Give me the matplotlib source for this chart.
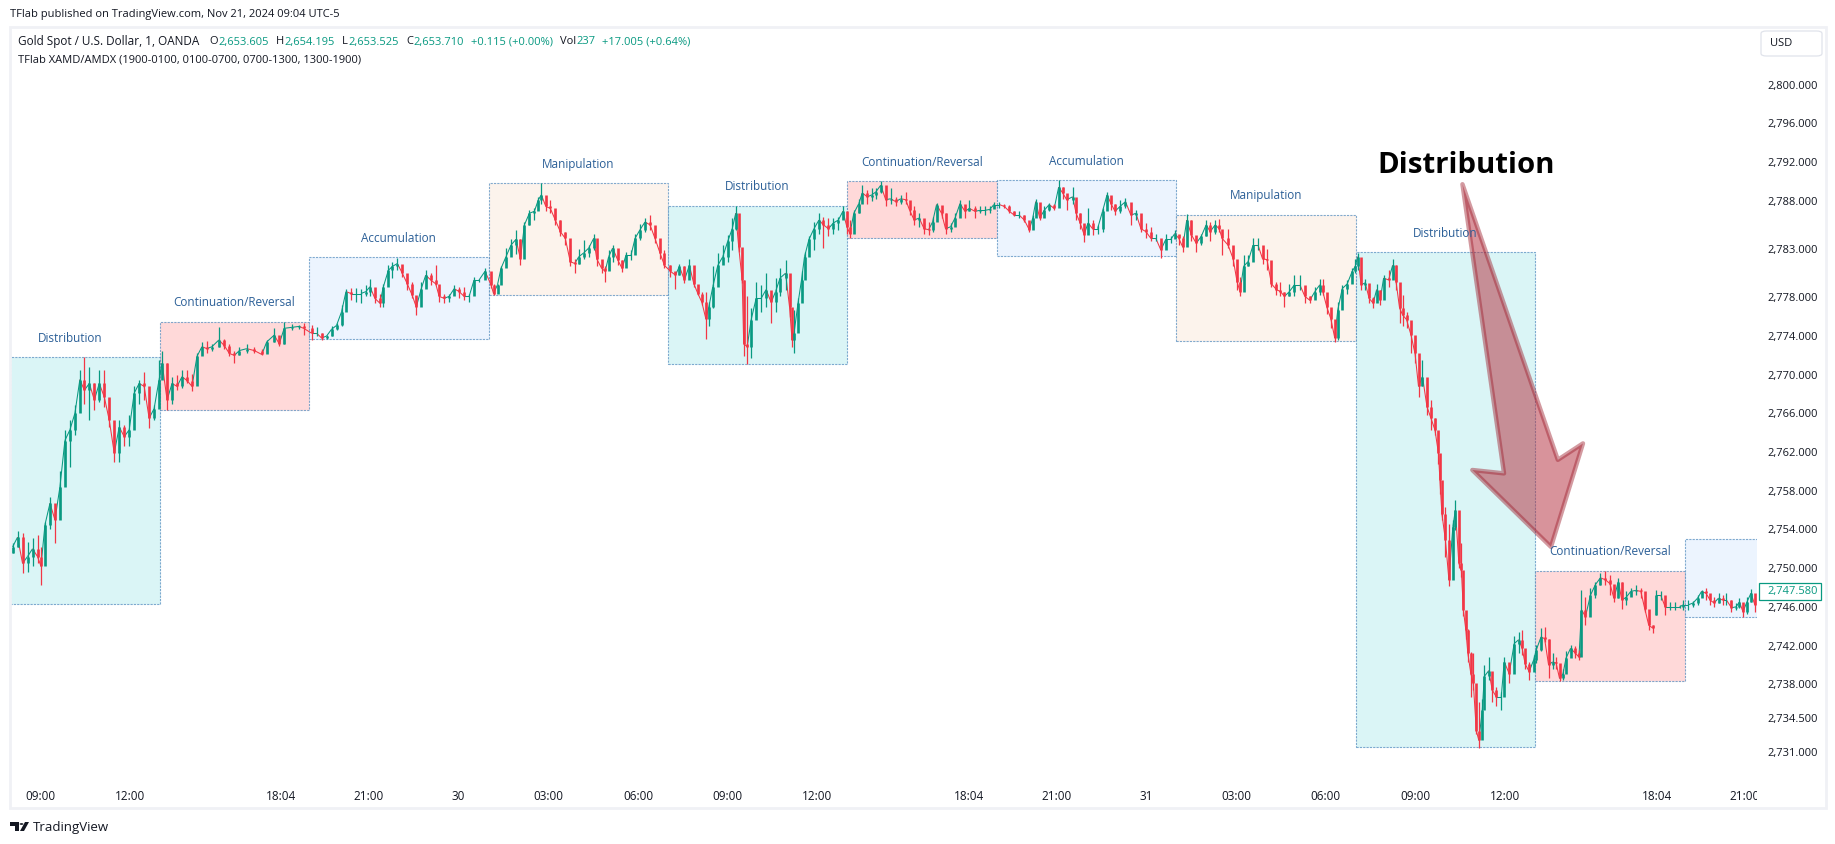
import matplotlib
matplotlib.use("Agg")
import matplotlib.pyplot as plt
from matplotlib.collections import LineCollection
from matplotlib.patches import Rectangle, Polygon, FancyBboxPatch, Circle
from matplotlib.transforms import Bbox, blended_transform_factory

W, H = 1835, 844
FONT = "Open Sans"
GREEN, RED = "#089981", "#F23645"
DARK = "#131722"

PRICE_BASE = 2700
# each bar: minutes since session start, high, low, close (price minus PRICE_BASE)
s1 = [(5,52.6,51.6,52.2),(15,53.8,52.2,53.2),(25,53.6,49.5,50.5),(35,52.7,49.6,51.2),(45,53.1,50.2,52.0),(55,53.4,50.5,51.2),(62,52.2,48.3,50.2),(70,54.8,51.5,54.5),(80,57.4,54.0,56.7),(90,55.7,52.6,55.0),(100,60.0,55.6,58.4),(110,64.3,60.8,63.2),(120,65.3,60.5,64.3),(130,66.9,63.8,66.0),(140,70.5,67.9,69.5),(149,71.8,67.0,68.4),(159,70.8,65.3,69.1),(169,69.1,66.4,67.4),(179,70.5,67.2,69.1),(189,70.5,66.7,67.7),(199,67.6,64.6,65.3),(209,64.8,61.0,61.9),(219,65.3,61.0,64.6),(229,64.8,62.6,63.6),(239,65.8,62.6,64.3),(249,68.8,66.5,68.1),(259,69.5,67.0,69.1),(269,70.3,67.4,68.8),(279,67.4,64.5,65.5),(289,66.9,65.3,66.5),(299,71.5,67.6,69.5)]
s2 = [(5,72.5,70.1,71.2),(15,71.2,66.4,67.4),(25,69.8,67.0,69.1),(35,70.0,68.4,68.8),(45,70.5,68.6,69.8),(55,70.5,69.1,69.4),(65,70.1,68.3,68.8),(75,72.2,69.1,71.9),(85,73.4,72.0,72.9),(95,73.5,72.2,72.7),(105,73.2,72.5,72.9),(119,74.9,72.9,73.6),(130,73.7,72.7,73.0),(140,73.2,71.9,72.2),(150,72.5,71.2,72.0),(160,72.9,72.0,72.5),(175,73.2,72.3,72.7),(190,72.9,72.2,72.5),(205,72.7,72.0,72.1),(215,73.6,72.2,73.4),(230,74.8,73.4,74.1),(240,73.6,73.0,73.2),(250,75.5,73.2,74.8),(265,75.2,74.6,74.9),(280,75.1,74.7,75.0),(289,75.3,74.1,74.8)]
s3 = [(5,75.1,73.6,74.3),(15,74.9,74.0,74.3),(25,74.3,73.6,73.8),(35,74.1,73.65,74.0),(45,75.0,74.0,74.7),(55,75.3,74.6,75.1),(65,77.2,75.0,76.5),(74,78.9,77.0,78.6),(84,79.0,77.7,78.4),(94,79.0,77.5,78.4),(104,78.9,77.4,78.4),(114,79.3,78.1,78.6),(122,79.9,78.1,79.1),(132,78.6,77.4,77.9),(142,78.4,77.0,77.4),(149,79.4,77.0,79.1),(159,81.3,80.0,80.8),(167,81.7,80.0,81.2),(177,82.1,80.8,81.5),(187,81.3,80.1,80.5),(197,80.1,78.8,79.4),(207,79.6,77.9,78.2),(215,78.1,76.2,77.0),(225,79.6,77.9,78.9),(234,80.8,79.1,80.3),(244,80.5,79.3,79.8),(254,81.3,79.3,79.4),(261,79.1,77.5,78.1),(271,78.4,77.4,77.9),(281,78.4,77.5,78.1),(291,79.3,78.2,78.9),(301,79.1,77.9,78.6),(311,79.1,77.7,78.1),(321,78.4,77.5,78.1),(331,80.1,78.6,79.8),(341,79.9,79.6,79.8),(353,81.0,80.0,80.7)]
s4 = [(5,80.3,79.0,79.3),(10,79.4,78.2,78.4),(18,79.4,78.9,79.3),(25,81.2,80.0,81.0),(35,83.1,81.3,82.2),(45,84.0,82.5,83.4),(55,85.0,82.5,84.0),(64,84.0,81.3,82.0),(72,85.8,83.6,85.5),(82,87.0,85.5,86.7),(92,87.2,86.0,86.9),(100,88.4,87.0,88.1),(106,89.8,87.7,88.6),(115,88.2,86.9,87.4),(124,88.1,86.7,87.2),(134,86.9,85.5,86.0),(144,86.0,84.3,84.8),(154,84.8,83.4,84.1),(164,83.4,81.2,81.7),(173,82.0,80.5,81.5),(181,83.0,81.5,82.2),(191,83.9,82.0,82.6),(201,83.4,82.2,83.1),(211,84.6,82.9,84.1),(217,82.9,81.2,82.0),(227,81.3,80.5,81.0),(234,81.2,79.6,80.7),(241,82.9,80.8,82.2),(249,83.4,81.7,83.1),(259,82.6,81.3,81.9),(268,81.9,80.6,81.0),(276,82.7,81.7,82.4),(286,82.9,81.9,82.4),(294,84.6,82.9,84.1),(304,85.6,83.9,85.0),(314,86.2,84.8,85.8),(324,86.5,85.0,85.5),(334,84.8,83.6,84.1),(344,83.2,82.0,82.6),(353,82.9,81.0,81.3)]
s5 = [(5,81.3,80.1,80.7),(15,80.6,78.9,80.3),(23,81.5,80.3,81.2),(33,81.2,79.5,79.8),(43,82.0,80.5,81.3),(52,80.8,79.1,79.4),(60,79.3,78.2,78.4),(68,78.6,77.2,77.5),(76,78.6,73.7,75.8),(82,77.5,75.0,77.0),(90,81.2,76.9,79.1),(100,82.6,79.8,81.3),(110,83.4,81.5,82.2),(120,84.4,81.7,83.8),(129,86.2,82.9,85.1),(136,87.5,85.0,86.7),(142,85.3,82.7,83.2),(149,82.7,79.5,79.8),(152,79.8,71.9,73.2),(159,78.1,71.07,72.9),(167,76.9,71.7,75.7),(177,79.6,76.0,77.9),(187,79.3,76.5,77.9),(197,80.5,77.0,78.8),(207,78.4,75.3,77.5),(216,80.0,76.5,78.6),(225,81.0,78.1,80.0),(236,81.9,78.8,80.5),(244,79.1,76.0,77.0),(249,75.1,72.9,73.6),(253,76.7,72.2,74.3),(261,77.9,75.5,77.4),(268,80.7,78.1,79.8),(274,82.7,80.7,82.2),(283,84.3,82.7,84.0),(293,85.8,82.9,85.1),(303,86.7,84.6,86.0),(312,86.3,83.1,85.5),(322,86.2,84.3,85.1),(332,86.2,84.6,85.7),(342,86.3,85.0,86.0),(351,87.4,86.2,86.9),(359,86.3,84.6,85.3)]
s6 = [(5,86.0,84.1,84.6),(13,87.0,85.7,86.7),(23,88.2,86.7,87.7),(30,89.6,88.0,88.8),(40,89.1,87.7,88.4),(49,89.3,88.0,88.6),(57,89.3,88.2,88.9),(67,90.0,88.8,89.6),(77,89.1,87.5,88.1),(87,89.3,87.7,88.2),(97,88.4,87.5,87.9),(107,88.6,87.7,88.2),(117,88.9,87.7,88.1),(125,87.7,86.5,87.0),(134,87.4,85.5,86.0),(144,86.7,85.3,86.2),(154,85.8,84.6,85.1),(163,85.8,84.5,85.0),(171,86.3,84.8,85.8),(179,87.8,86.3,87.6),(189,87.0,86.2,86.7),(197,86.7,84.6,85.1),(207,85.7,84.8,85.3),(216,86.7,85.5,86.2),(226,88.1,86.7,87.7),(236,87.5,86.2,86.9),(245,88.1,86.9,87.2),(256,87.5,86.2,86.9),(266,87.5,86.7,87.0),(276,87.4,86.5,87.0),(286,87.4,86.7,87.1),(294,87.9,87.2,87.6)]
s7 = [(5,87.9,87.2,87.6),(15,87.7,87.2,87.4),(25,87.6,86.7,86.9),(35,86.9,86.4,86.5),(45,86.9,86.2,86.5),(55,86.5,85.8,86.0),(65,85.6,84.8,85.0),(72,86.5,85.1,86.2),(78,88.2,86.5,87.9),(86,87.2,86.0,86.2),(95,87.4,86.5,87.0),(105,87.8,86.9,87.6),(115,87.7,87.0,87.2),(124,90.1,87.6,89.4),(132,89.4,88.2,88.8),(140,88.6,87.0,88.1),(152,89.4,87.7,88.4),(159,88.1,86.0,86.7),(167,86.7,85.1,85.7),(175,85.3,83.7,84.5),(183,87.2,84.6,85.7),(192,86.0,84.5,85.1),(202,85.5,84.6,85.1),(212,87.2,84.8,86.9),(221,88.9,87.4,88.6),(229,88.4,87.0,87.7),(237,87.7,86.5,86.9),(247,88.1,86.7,87.4),(258,88.3,87.2,87.9),(269,87.2,85.5,86.5),(279,87.0,86.0,86.7),(289,86.2,84.8,85.1),(299,85.7,84.1,84.8),(309,85.3,83.8,84.1),(319,84.6,83.8,84.1),(329,83.8,82.1,82.9),(339,84.6,83.4,84.0),(349,84.3,83.6,84.0),(357,85.0,84.3,84.6)]
s8 = [(5,84.4,83.4,84.1),(13,84.3,82.7,83.2),(21,86.6,84.1,86.0),(30,86.0,83.8,84.5),(40,84.3,82.7,83.6),(50,84.6,83.4,84.3),(60,86.0,84.3,85.5),(68,85.8,83.8,84.8),(78,86.0,84.6,85.5),(86,86.1,84.8,85.1),(92,84.8,82.4,84.1),(104,85.1,83.1,83.4),(114,83.2,81.2,82.0),(122,81.2,78.8,79.6),(128,80.1,78.1,78.6),(135,82.4,79.8,81.2),(144,82.4,81.2,81.7),(154,84.1,82.2,83.4),(164,84.1,82.9,83.4),(173,83.1,81.5,82.0),(182,83.0,80.8,81.9),(191,80.1,79.1,79.4),(201,79.6,78.2,78.8),(209,79.6,78.1,78.6),(217,78.6,77.0,78.1),(227,79.4,78.1,78.6),(237,80.3,78.1,79.3),(248,80.3,78.8,79.3),(258,79.1,77.4,78.1),(268,78.1,77.4,77.7),(278,79.1,77.9,78.6),(288,79.9,78.2,79.3),(294,79.9,78.2,78.6),(302,78.1,76.3,77.0),(310,76.7,74.8,75.8),(318,74.4,73.4,73.8),(324,77.5,73.6,76.7),(333,79.3,77.5,78.9),(343,79.8,78.4,79.4),(353,81.0,80.0,80.7),(359,82.0,80.5,81.2)]
s9 = [(4,82.6,80.8,82.2),(11,80.5,78.8,79.3),(19,79.9,78.8,79.5),(27,78.9,77.4,77.9),(35,78.0,76.9,77.4),(42,79.4,77.7,78.8),(49,78.8,77.2,77.7),(56,80.3,79.4,80.0),(66,80.8,79.1,79.8),(74,82.0,80.3,81.3),(81,81.3,78.8,79.6),(88,78.9,75.3,76.9),(94,78.2,75.0,76.2),(102,76.5,74.8,75.7),(111,75.3,72.2,74.1),(119,73.9,71.2,72.2),(126,71.5,67.7,68.8),(134,71.5,68.8,69.8),(143,69.1,65.8,66.7),(151,67.4,64.3,65.5),(159,65.5,63.8,64.3),(166,64.1,60.8,61.9),(169,60.1,57.7,59.1),(173,57.9,55.0,55.6),(180,56.3,51.2,52.9),(187,54.6,48.2,48.8),(195,55.0,51.7,54.3),(200,57.0,53.9,56.0),(207,54.3,50.0,50.5),(212,52.6,49.1,49.8),(216,47.9,45.1,45.7),(221,45.0,42.7,43.6),(225,43.7,40.3,41.2),(231,41.3,36.7,39.1),(236,41.2,37.4,38.1),(242,36.2,32.9,33.2),(247,36.2,31.4,32.2),(254,36.5,33.2,35.3),(258,40.0,36.7,38.8),(267,40.8,38.4,39.4),(274,38.4,36.2,37.4),(282,37.7,35.7,36.7),(292,37.2,35.3,36.7),(298,40.8,37.7,40.3),(308,40.1,38.1,39.1),(318,43.0,39.9,42.2),(327,43.4,41.2,42.6),(334,43.6,41.0,41.7),(340,41.2,39.6,40.1),(348,40.3,38.4,39.3),(357,41.0,39.6,40.5)]
s10 = [(2,42.1,40.2,41.5),(12,43.8,41.4,42.9),(19,43.9,42.4,42.7),(27,42.7,38.6,40.0),(35,41.2,39.6,40.3),(42,40.8,39.6,40.2),(49,39.5,38.3,38.6),(56,39.6,38.4,39.1),(62,41.4,39.5,40.7),(71,42.1,41.2,41.7),(81,41.9,40.7,41.2),(88,41.5,40.5,40.8),(93,47.7,41.7,45.7),(101,47.0,44.1,45.0),(111,47.9,45.7,47.2),(121,48.6,46.9,48.3),(131,49.5,48.3,49.0),(141,49.7,48.3,48.8),(150,49.3,47.2,48.4),(158,47.6,46.5,46.9),(167,49.0,46.9,48.6),(174,48.6,45.8,46.7),(183,47.6,46.2,47.0),(192,47.9,47.1,47.6),(202,48.3,47.2,47.7),(212,47.9,46.9,47.6),(220,46.2,45.5,45.8),(228,44.6,43.6,44.1),(236,44.1,43.3,43.8),(242,47.7,45.2,47.2),(252,47.6,46.7,47.2),(261,46.5,45.2,46.0),(270,46.5,45.7,46.0),(280,46.5,45.7,46.0),(290,46.2,45.9,46.0),(297,46.7,45.7,46.2)]
s11 = [(7,46.7,45.7,46.2),(17,46.6,46.0,46.4),(26,47.2,46.2,46.9),(34,47.7,47.0,47.6),(43,47.9,46.7,47.4),(51,47.0,46.2,46.7),(59,47.0,46.0,46.4),(68,47.4,46.4,46.9),(76,47.2,46.2,46.7),(84,47.4,46.2,46.7),(94,46.7,45.5,45.9),(103,46.4,45.7,46.0),(110,46.9,45.9,46.5),(117,46.0,45.0,45.5),(125,47.0,45.3,46.5),(133,47.8,46.5,47.4),(141,47.0,45.5,46.2)]
sessions = [s1, s2, s3, s4, s5, s6, s7, s8, s9, s10, s11]
# first bar after the daily trading break: session index, minute
after_break = (9, 242)

# session edges in trading hours since the first 09:00 tick
session_start = [-1, 4, 9, 15, 21, 27, 32, 38, 44, 50, 55]
session_end = [4, 9, 15, 21, 27, 32, 38, 44, 50, 55, 61]
box_top = [71.8, 75.5, 82.15, 89.8, 87.5, 90.0, 90.1, 86.55, 82.66, 49.75, 53.05]
box_bottom = [46.3, 66.4, 73.65, 78.2, 71.1, 84.1, 82.25, 73.45, 31.47, 38.3, 45.0]
phase = ["Distribution", "Continuation/Reversal", "Accumulation", "Manipulation",
         "Distribution", "Continuation/Reversal", "Accumulation", "Manipulation",
         "Distribution", "Continuation/Reversal", "Accumulation"]
phase_color = {"Distribution": "#DAF5F6", "Continuation/Reversal": "#FFD9D9",
               "Accumulation": "#ECF4FE", "Manipulation": "#FCF3EC"}
label_center = [1, 6.5, 12, 18, 24, 29.5, 35, 41, 47, 52.5]

price_ticks = [2800, 2796, 2792, 2788, 2783, 2778, 2774, 2770, 2766, 2762, 2758,
               2754, 2750, 2746, 2742, 2738, 2734.5, 2731]
time_ticks = [0, 3, 8.07, 11, 14, 17, 20, 23, 26, 31.07, 34, 37, 40, 43, 46, 49, 54.07, 57]
time_labels = ["09:00", "12:00", "18:04", "21:00", "30", "03:00", "06:00", "09:00", "12:00",
               "18:04", "21:00", "31", "03:00", "06:00", "09:00", "12:00", "18:04", "21:00"]
last_price = 2747.58
arrow_time = [47.57, 50.76, 51.6, 50.53, 47.9, 48.96]
arrow_price = [2789.7, 2761.2, 2762.9, 2752.2, 2760.15, 2759.8]

fig = plt.figure(figsize=(W / 100, H / 100), dpi=100, facecolor="white")
plt.rcParams["font.family"] = FONT

L, R, T, B = 10, 1757, 27, 778
ax = fig.add_axes([L / W, (H - B) / H, (R - L) / W, (B - T) / H])
ax.set_xlim(-1.003, 57.42)
ax.set_ylim(2728.3, 2805.96)
for sp in ax.spines.values():
    sp.set_visible(False)

# session boxes
for a, b, top, bot, name in zip(session_start, session_end, box_top, box_bottom, phase):
    ax.add_patch(Rectangle((a, PRICE_BASE + bot), b - a, top - bot, facecolor=phase_color[name],
                           edgecolor=(0.25, 0.5, 0.72, 0.65), linewidth=0.8,
                           linestyle=(0, (2, 1)), zorder=1))
for c, top, name in zip(label_center, box_top, phase):
    ax.text(c, PRICE_BASE + top + 1.97, name, color="#2B5F97", ha="center", va="center",
            fontsize=8.5, zorder=5, clip_on=True)

# candles: each bar opens at the previous close
ts, hs, ls, os_, cs, segs, seg_cols = [], [], [], [], [], [], []
prev, prev_t = None, None
for idx, (start, bars) in enumerate(zip(session_start, sessions)):
    for m, h, l, c in bars:
        t = start + m / 60
        broke = (idx, m) == after_break
        o = l if broke or prev is None else prev
        col = GREEN if c >= o else RED
        ts.append(t); hs.append(PRICE_BASE + h); ls.append(PRICE_BASE + l)
        os_.append(PRICE_BASE + o); cs.append(PRICE_BASE + c)
        if prev is not None and not broke:
            segs.append([(prev_t, PRICE_BASE + prev), (t, PRICE_BASE + c)])
            seg_cols.append(col)
        prev, prev_t = c, t
cols = [GREEN if c >= o else RED for o, c in zip(os_, cs)]
ax.add_collection(LineCollection(segs, colors=seg_cols, linewidths=0.75, zorder=3))
ax.vlines(ts, ls, hs, colors=cols, linewidth=0.9, zorder=3, capstyle="butt")
ax.vlines(ts, os_, cs, colors=cols, linewidth=1.9, zorder=3, capstyle="butt")

# arrow and headline
ax.add_patch(Polygon(list(zip(arrow_time, arrow_price)), closed=True, facecolor=(0.70, 0.16, 0.22, 0.5),
                     edgecolor=(0.62, 0.12, 0.18, 0.45), linewidth=3.2, joinstyle="round", zorder=4))
ax.text(47.7, 2791.65, "Distribution", color="black", fontsize=21.2, fontweight="bold",
        ha="center", va="center", zorder=6)

# axes
ax.yaxis.tick_right()
ax.set_yticks(price_ticks, [f"{v:,.3f}" for v in price_ticks])
ax.tick_params(axis="y", length=0, pad=7.2, labelsize=8, labelcolor=DARK)
ax.set_xticks(time_ticks, time_labels)
ax.tick_params(axis="x", length=0, pad=9, labelsize=8.5, labelcolor=DARK)
clip = Bbox([[0, 0], [R, H]])
for lab in ax.get_xticklabels():
    lab.set_clip_box(clip)
    lab.set_clip_on(True)

# last price tag
trans = blended_transform_factory(ax.transAxes, ax.transData)
ax.add_patch(Rectangle((1.0012, last_price - 0.88), 62 / (R - L), 1.76, transform=trans, fc="white",
                       ec=GREEN, lw=0.9, clip_on=False, zorder=10))
ax.annotate(f"{last_price:,.3f}", xy=(1, last_price), xycoords=("axes fraction", "data"),
            xytext=(7.2, 0), textcoords="offset points", va="center", ha="left",
            fontsize=8, color=GREEN, annotation_clip=False, zorder=11)

# pane frame
fig.add_artist(Rectangle((L / W, (H - 808) / H), (1826 - L) / W, (808 - T) / H,
                         transform=fig.transFigure, fill=False, edgecolor="#F0F1F5", linewidth=2.0))

def ftext(x, y, s, color=DARK, size=8, **kw):
    return fig.text(x / W, 1 - y / H, s, color=color, fontsize=size, va="center", ha="left", **kw)

ftext(10, 15, "TFlab published on TradingView.com, Nov 21, 2024 09:04 UTC-5", size=8)
ftext(18, 42, "Gold Spot / U.S. Dollar, 1, OANDA", size=8.5)
for x, s, c in [(209, "O", DARK), (218, "2,653.605", GREEN), (276, "H", DARK), (284, "2,654.195", GREEN),
                (342, "L", DARK), (348, "2,653.525", GREEN), (406, "C", DARK), (413, "2,653.710", GREEN),
                (471, "+0.115 (+0.00%)", GREEN), (560, "Vol", DARK), (576.5, "237", GREEN),
                (602, "+17.005 (+0.64%)", GREEN)]:
    ftext(x, 42, s, color=c)
ftext(18, 59.5, "TFlab XAMD/AMDX (1900-0100, 0100-0700, 0700-1300, 1300-1900)", size=8.05)

# USD button
fig.add_artist(FancyBboxPatch((1761 / W, (H - 56) / H), 61 / W, 25 / H, boxstyle="round,pad=0,rounding_size=0.003",
                              transform=fig.transFigure, fc="white", ec="#E0E3EB", lw=0.9))
ftext(1770, 44, "USD", size=8)

# TradingView mark
px = lambda x, y: (x / W, 1 - y / H)
fig.add_artist(Polygon([px(10, 822), px(19, 822), px(19, 831), px(14.5, 831), px(14.5, 826), px(10, 826)],
                       transform=fig.transFigure, fc=DARK, ec="none"))
fig.add_artist(Circle(px(21.5, 824), 1.9 / W, transform=fig.transFigure, fc=DARK, ec="none"))
fig.add_artist(Polygon([px(25, 822), px(29, 822), px(24, 831), px(20, 831)], transform=fig.transFigure, fc=DARK, ec="none"))
ftext(33, 827, "TradingView", size=9.5)

fig.savefig("out.png", dpi=100)
